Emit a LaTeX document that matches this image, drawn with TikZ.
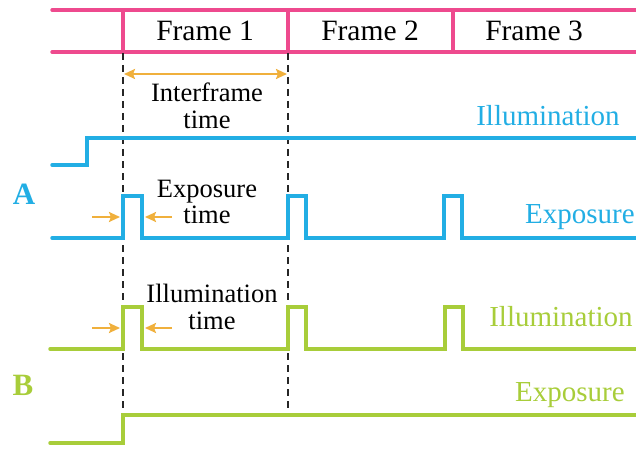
\documentclass[tikz,border=0pt]{standalone}
\usepackage{fontspec}
\setmainfont{Liberation Serif}
\usetikzlibrary{arrows.meta}
\definecolor{framepink}{HTML}{EE4A8E}
\definecolor{sigblue}{HTML}{22AEE4}
\definecolor{siggreen}{HTML}{A8CD3A}
\definecolor{markorange}{HTML}{F0B03C}
\tikzset{
  framebar/.style={draw=framepink, line width=3.4pt, line cap=round},
  sigA/.style={draw=sigblue, line width=3.5pt, line cap=round, line join=miter},
  sigB/.style={draw=siggreen, line width=3.5pt, line cap=round, line join=miter},
  guide/.style={draw=black!85, line width=1.7pt, dash pattern=on 7pt off 5pt},
  span/.style={draw=markorange, line width=2.2pt, -{Stealth[length=11pt,width=10pt,inset=2pt]}},
  spanboth/.style={draw=markorange, line width=2.2pt, {Stealth[length=11pt,width=10pt,inset=2pt]}-{Stealth[length=11pt,width=10pt,inset=2pt]}},
  frametxt/.style={font=\fontsize{29.5}{30}\selectfont, inner sep=0pt},
  notetxt/.style={font=\fontsize{26.5}{26.5}\selectfont, inner sep=0pt, align=center},
  siglabel/.style={font=\fontsize{29}{30}\selectfont, inner sep=0pt},
  rowletter/.style={font=\fontsize{31}{32}\selectfont\bfseries, inner sep=0pt}
}
\begin{document}
\begin{tikzpicture}[x=1pt, y=-1pt]
\useasboundingbox (0,0) rectangle (636,449);

% frame bar
\draw[framebar] (52,10) -- (636,10);
\draw[framebar] (52,52) -- (636,52);
\draw[framebar] (123,10) -- (123,52);
\draw[framebar] (288,10) -- (288,52);
\draw[framebar] (453,10) -- (453,52);
\node[frametxt] (f1) at (205,31) {Frame 1};
\node[frametxt] (f2) at (370,31) {Frame 2};
\node[frametxt] (f3) at (534,31) {Frame 3};

% frame boundary guides
\coordinate (g1top) at (123,53);
\coordinate (g1bot) at (123,415);
\coordinate (g2top) at (288,53);
\coordinate (g2bot) at (288,415);
\draw[guide] (g1top) -- (g1bot);
\draw[guide] (g2top) -- (g2bot);

% interframe time
\coordinate (ifl) at (124,74);
\coordinate (ifr) at (287,74);
\draw[spanboth] (ifl) -- (ifr);
\node[notetxt] (iftxt) at (207,106) {Interframe\\time};

% row A: continuous illumination, pulsed exposure
\node[rowletter, text=sigblue] (rowA) at (24,194) {A};
\draw[sigA] (52,165) -- (87,165) -- (87,138) -- (636,138);
\node[siglabel, text=sigblue] (aillum) at (548,116) {Illumination};
\draw[sigA] (52,238) -- (123,238) -- (123,196) -- (142,196) -- (142,238)
  -- (288,238) -- (288,196) -- (306,196) -- (306,238)
  -- (444,238) -- (444,196) -- (462,196) -- (462,238) -- (636,238);
\node[siglabel, text=sigblue] (aexp) at (580,217) {Exposure};
\node[notetxt] (exptxt) at (207,202) {Exposure\\time};
\coordinate (ea1) at (92,217);
\coordinate (ea2) at (120,217);
\coordinate (eb1) at (172,217);
\coordinate (eb2) at (145,217);
\draw[span] (ea1) -- (ea2);
\draw[span] (eb1) -- (eb2);

% row B: pulsed illumination, continuous exposure
\node[rowletter, text=siggreen] (rowB) at (23,385) {B};
\draw[sigB] (50,349) -- (123,349) -- (123,307) -- (142,307) -- (142,349)
  -- (288,349) -- (288,307) -- (306,307) -- (306,349)
  -- (445,349) -- (445,307) -- (463,307) -- (463,349) -- (636,349);
\node[siglabel, text=siggreen] (billum) at (561,317) {Illumination};
\node[notetxt] (illtxt) at (212,307) {Illumination\\time};
\coordinate (ia1) at (92,328);
\coordinate (ia2) at (120,328);
\coordinate (ib1) at (172,328);
\coordinate (ib2) at (145,328);
\draw[span] (ia1) -- (ia2);
\draw[span] (ib1) -- (ib2);
\draw[sigB] (50,443) -- (123,443) -- (123,415) -- (636,415);
\node[siglabel, text=siggreen] (bexp) at (570,395) {Exposure};
\end{tikzpicture}
\end{document}
